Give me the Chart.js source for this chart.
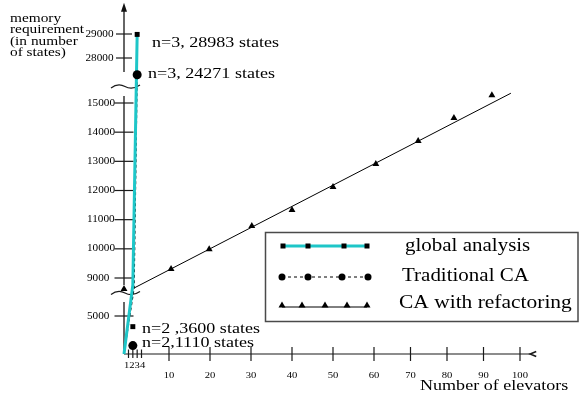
<!DOCTYPE html>
<html>
<head>
<meta charset="utf-8">
<script src="https://cdn.jsdelivr.net/npm/chart.js@4.4.1/dist/chart.umd.min.js"></script>
<style>
  html, body { margin: 0; padding: 0; background: #fff; }
  canvas { display: block; }
</style>
</head>
<body>
<canvas id="memoryChart" width="581" height="396"></canvas>
<script>
// global analysis: the two labelled results and the path the line takes
const globalN = [2, 3];
const globalStates = [3600, 28983];
const globalPathN = [0, 2, 3];
const globalPathStates = [0, 8760, 28983];

// traditional CA
const traditionalN = [2, 3];
const traditionalStates = [1110, 24271];
const traditionalPathN = [0, 2.3, 3];
const traditionalPathStates = [0, 8420, 24271];

// CA with refactoring: measured points and the straight trend line
const refactorN = [0, 10.5, 19.8, 30.2, 40, 50, 60.5, 72.1, 81.9, 92.3];
const refactorStates = [8310, 9310, 9990, 10780, 11330, 12120, 12910, 13700, 14490, 15270];
const refactorTrendN = [2.3, 97.5];
const refactorTrendStates = [8420, 15760];

const yTickValues = [5000, 9000, 10000, 11000, 12000, 13000, 14000, 15000, 28000, 29000];
const xSmallTicks = [1, 2, 3, 4];
const xTickValues = [10, 20, 30, 40, 50, 60, 70, 80, 90, 100];

const pointLabels = ['n=3, 28983 states', 'n=3, 24271 states', 'n=2 ,3600 states', 'n=2,1110 states'];
const yTitle = ['memory', 'requirement', '(in number', 'of states)'];
const xTitle = 'Number of elevators';

const CYAN = '#1ec6c8';
const SX = 1.18; // the original lettering is a bit wider than Times

// the drawing is hand made: each axis is piecewise linear (value -> pixel offset)
const BREAKS = {
  x: [[0, 0], [1, 4.5], [4, 17.5], [10, 45], [60, 250], [100, 396], [110, 432.5]],
  y: [[0, 0], [5000, 38], [6840, 52], [8760, 69], [9000, 76], [15300, 259.75],
      [24000, 279], [27417, 282], [28000, 296], [29000, 320], [31000, 368]]
};
const Y_SEGMENTS = [[0, 6840], [8760, 15240], [27417, 30050]];

function lookup(map, v, from, to) {
  let i = 0;
  while (i < map.length - 2 && v > map[i + 1][from]) i++;
  const a = map[i], b = map[i + 1];
  return a[to] + (v - a[from]) * (b[to] - a[to]) / (b[from] - a[from]);
}

class BrokenScale extends Chart.LinearScale {
  static id = 'broken';
  static defaults = {};
  getPixelForValue(value) {
    const off = lookup(BREAKS[this.axis], value, 0, 1);
    return this.isHorizontal() ? this.left + off : this.bottom - off;
  }
  getValueForPixel(pixel) {
    const off = this.isHorizontal() ? pixel - this.left : this.bottom - pixel;
    return lookup(BREAKS[this.axis], off, 1, 0);
  }
}
Chart.register(BrokenScale);

const pts = (xs, ys) => xs.map((v, i) => ({ x: v, y: ys[i] }));

function text(ctx, str, x, y, size, align) {
  ctx.save();
  ctx.font = size + 'px "Liberation Serif", "Times New Roman", serif';
  ctx.fillStyle = '#000';
  ctx.textBaseline = 'middle';
  ctx.textAlign = align || 'left';
  ctx.translate(x, y);
  ctx.scale(SX, 1);
  ctx.fillText(str, 0, 0);
  ctx.restore();
}

function line(ctx, x1, y1, x2, y2) {
  ctx.beginPath();
  ctx.moveTo(x1, y1);
  ctx.lineTo(x2, y2);
  ctx.stroke();
}

function squiggle(ctx, x, y) {
  ctx.beginPath();
  ctx.moveTo(x - 14, y + 1.5);
  ctx.quadraticCurveTo(x - 7, y - 4, x, y);
  ctx.quadraticCurveTo(x + 7, y + 4, x + 15, y - 1.5);
  ctx.stroke();
}

const axesPlugin = {
  id: 'brokenAxes',
  beforeDatasetsDraw(chart) {
    const { ctx, scales: { x, y } } = chart;
    const x0 = x.getPixelForValue(0);
    const y0 = y.getPixelForValue(0);
    ctx.save();
    ctx.strokeStyle = '#1a1a1a';
    ctx.lineWidth = 1.2;

    // x axis with its odd "<" end
    const xEnd = x.getPixelForValue(102.8);
    line(ctx, x0, y0, xEnd, y0);
    ctx.lineWidth = 1.6;
    ctx.beginPath();
    ctx.moveTo(xEnd + 6, y0 - 2.5);
    ctx.lineTo(xEnd, y0);
    ctx.lineTo(xEnd + 6, y0 + 2.5);
    ctx.stroke();
    ctx.lineWidth = 1.2;

    xSmallTicks.forEach(v => line(ctx, x.getPixelForValue(v), y0 - 4.5, x.getPixelForValue(v), y0 + 4));
    xTickValues.forEach(v => line(ctx, x.getPixelForValue(v), y0 - 7, x.getPixelForValue(v), y0 + 7));

    // y axis in three pieces
    ctx.strokeStyle = '#333';
    ctx.lineWidth = 1.5;
    Y_SEGMENTS.forEach(([a, b]) => line(ctx, x0, y.getPixelForValue(a), x0, y.getPixelForValue(b)));
    const top = y.getPixelForValue(Y_SEGMENTS[2][1]);
    ctx.fillStyle = '#111';
    ctx.beginPath();
    ctx.moveTo(x0, top - 6);
    ctx.lineTo(x0 - 3, top + 3);
    ctx.lineTo(x0 + 3, top + 3);
    ctx.closePath();
    ctx.fill();

    ctx.strokeStyle = '#1a1a1a';
    ctx.lineWidth = 1.2;
    yTickValues.forEach(v => {
      const py = y.getPixelForValue(v);
      const half = v > 20000 ? 8 : 9.5;
      line(ctx, x0 - half, py, x0 + half, py);
    });

    squiggle(ctx, x0 + 1, 293);
    squiggle(ctx, x0 + 1, 86.5);
    ctx.restore();
  },
  afterDraw(chart) {
    const { ctx, scales: { x, y } } = chart;
    const x0 = x.getPixelForValue(0);

    yTitle.forEach((s, i) => text(ctx, s, 10, 18.5 + i * 11.5, 13));
    yTickValues.forEach(v => {
      text(ctx, String(v), v > 20000 ? 85.5 : 87, y.getPixelForValue(v), 9.5);
    });
    text(ctx, xSmallTicks.join(''), x0, 366, 9);
    xTickValues.forEach(v => text(ctx, String(v), x.getPixelForValue(v), 376, 9, 'center'));
    text(ctx, xTitle, 420, 386, 15.3);

    text(ctx, pointLabels[0], 152, 43, 15.3);
    text(ctx, pointLabels[1], 148, 74, 15.3);
    text(ctx, pointLabels[2], 142, 329, 15.3);
    text(ctx, pointLabels[3], 142, 343, 15.3);

    // boxed legend with sample strokes
    ctx.save();
    ctx.fillStyle = '#fff';
    ctx.fillRect(265, 232, 313, 90);
    ctx.strokeStyle = '#4a4a4a';
    ctx.lineWidth = 1.5;
    ctx.strokeRect(265.5, 232.5, 312.5, 89);

    ctx.strokeStyle = CYAN;
    ctx.lineWidth = 3;
    line(ctx, 283, 246, 367, 246);
    ctx.fillStyle = '#000';
    [283, 308, 344, 367].forEach(px => ctx.fillRect(px - 2.5, 243.5, 5, 5));

    ctx.strokeStyle = '#000';
    ctx.lineWidth = 1;
    ctx.setLineDash([3, 3]);
    line(ctx, 282, 277, 368, 277);
    ctx.setLineDash([]);
    [282, 308, 342, 368].forEach(px => {
      ctx.beginPath();
      ctx.arc(px, 277, 3.5, 0, Math.PI * 2);
      ctx.fill();
    });

    line(ctx, 282, 307, 367, 307);
    [282, 302, 325, 347, 367].forEach(px => {
      ctx.beginPath();
      ctx.moveTo(px, 301.5);
      ctx.lineTo(px - 3.5, 307.5);
      ctx.lineTo(px + 3.5, 307.5);
      ctx.closePath();
      ctx.fill();
    });
    ctx.restore();

    const labels = chart.data.datasets.slice(0, 3).map(d => d.label);
    text(ctx, labels[0], 405, 246, 17.8);
    text(ctx, labels[1], 402, 276, 17.8);
    text(ctx, labels[2], 399, 303, 18.2);
  }
};

new Chart(document.getElementById('memoryChart'), {
  type: 'line',
  data: {
    datasets: [
      {
        label: 'global analysis',
        data: pts(globalN, globalStates),
        showLine: false,
        pointStyle: 'rect',
        pointRadius: 3.5,
        pointBackgroundColor: '#000',
        pointBorderWidth: 0,
        clip: false
      },
      {
        label: 'Traditional CA',
        data: pts(traditionalN, traditionalStates),
        showLine: false,
        pointStyle: 'circle',
        pointRadius: 4.5,
        pointBackgroundColor: '#000',
        pointBorderWidth: 0,
        clip: false
      },
      {
        label: 'CA with refactoring',
        data: pts(refactorN, refactorStates),
        showLine: false,
        pointStyle: 'triangle',
        pointRadius: 4,
        pointBackgroundColor: '#000',
        pointBorderWidth: 0,
        clip: false
      },
      {
        data: pts(globalPathN, globalPathStates),
        borderColor: CYAN,
        borderWidth: 3,
        pointRadius: 0,
        clip: false
      },
      {
        data: pts(traditionalPathN, traditionalPathStates),
        borderColor: '#000',
        borderWidth: 1.2,
        borderDash: [3, 2.5],
        pointRadius: 0,
        clip: false
      },
      {
        data: pts(refactorTrendN, refactorTrendStates),
        borderColor: '#000',
        borderWidth: 1,
        pointRadius: 0,
        clip: false
      }
    ]
  },
  options: {
    responsive: false,
    devicePixelRatio: 1,
    animation: false,
    events: [],
    layout: { padding: { left: 124, right: 41, top: 8, bottom: 42 } },
    scales: {
      x: { type: 'broken', min: 0, max: 105, display: false },
      y: { type: 'broken', min: 0, max: 31000, display: false }
    },
    plugins: {
      legend: { display: false },
      tooltip: { enabled: false }
    }
  },
  plugins: [axesPlugin]
});
</script>
</body>
</html>
